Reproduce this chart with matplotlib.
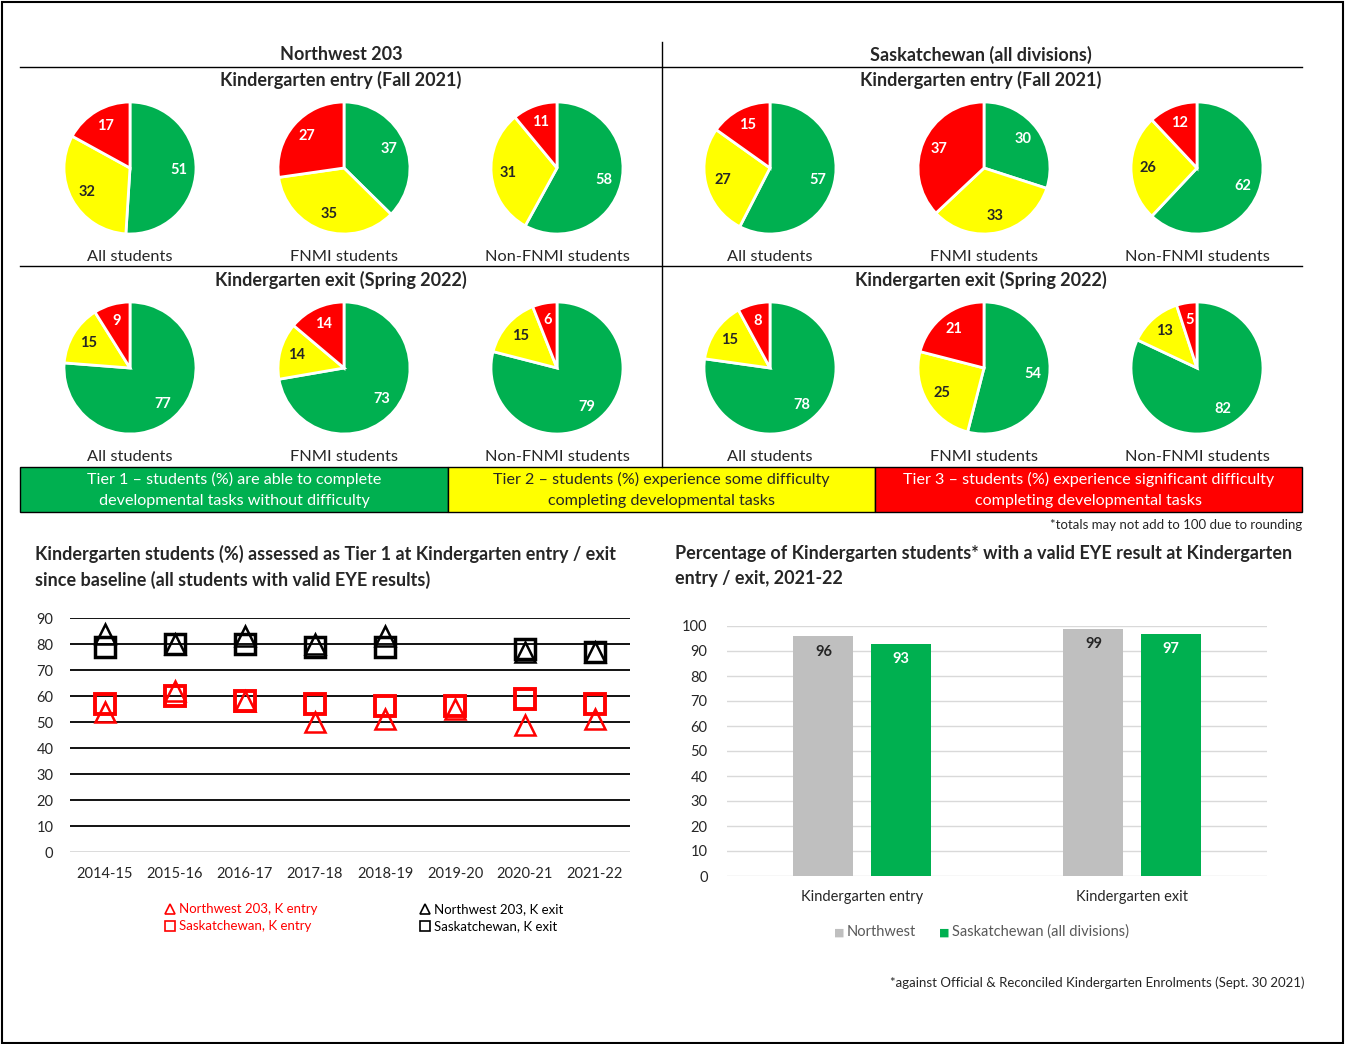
import numpy as np
import matplotlib.pyplot as plt
from matplotlib.patches import Rectangle
from matplotlib import font_manager

plt.rcParams['font.family'] = ['Lato', 'DejaVu Sans']

W, H = 1345, 1044

# pie data: tier 1 (green), tier 2 (yellow), tier 3 (red)
nw_entry = [[51, 32, 17], [37, 35, 27], [58, 31, 11]]
nw_exit = [[77, 15, 9], [73, 14, 14], [79, 15, 6]]
sk_entry = [[57, 27, 15], [30, 33, 37], [62, 26, 12]]
sk_exit = [[78, 15, 8], [54, 25, 21], [82, 13, 5]]
groups = ['All students', 'FNMI students', 'Non-FNMI students']

# line chart data
years = ['2014-15', '2015-16', '2016-17', '2017-18', '2018-19', '2019-20', '2020-21', '2021-22']
nw_k_entry = [54, 62, 58, 50, 51, 55, 49, 51]
sk_k_entry = [57, 60, 58, 57, 56, 56, 59, 57]
nw_k_exit = [84, 80, 83, 80, 83, np.nan, 77, 77]
sk_k_exit = [79, 80, 80, 79, 79, np.nan, 78, 77]

# bar chart data
bar_cats = ['Kindergarten entry', 'Kindergarten exit']
northwest_valid = [96, 99]
sask_valid = [93, 97]

GREEN = '#00B050'
YELLOW = '#FFFF00'
RED = '#FF0000'
GREY = '#BFBFBF'
DARK = '#262626'

# pick a bold face that is really installed
lato_weights = {f.weight for f in font_manager.fontManager.ttflist if f.name == 'Lato'}
BOLD = 'bold' if any(w in (700, 'bold') for w in lato_weights) else 'black'
BOLD_FAMILY = ['Lato', 'DejaVu Sans'] if BOLD == 'bold' else ['Open Sans', 'DejaVu Sans']


def px_axes(fig, x0, y0, x1, y1):
    return fig.add_axes([x0 / W, 1 - y1 / H, (x1 - x0) / W, (y1 - y0) / H])


fig = plt.figure(figsize=(W / 100, H / 100), dpi=100)

# overlay for lines and free text
ov = fig.add_axes([0, 0, 1, 1])
ov.set_xlim(0, W)
ov.set_ylim(H, 0)
ov.axis('off')
ov.add_patch(Rectangle((2, 2), W - 4, H - 3, fill=False, ec='black', lw=1.5))

# table lines
ov.plot([20, 1302], [67, 67], color='black', lw=1)
ov.plot([20, 1302], [266, 266], color='black', lw=1)
ov.plot([662, 662], [42, 467], color='black', lw=1)

hdr = dict(ha='center', va='center', fontsize=13, fontweight='bold', family=BOLD_FAMILY, color=DARK)
ov.text(341, 55, 'Northwest 203', **hdr)
ov.text(981, 55, 'Saskatchewan (all divisions)', **hdr)
for cx in [341, 981]:
    ov.text(cx, 80, 'Kindergarten entry (Fall 2021)', **hdr)
    ov.text(cx, 280, 'Kindergarten exit (Spring 2022)', **hdr)

pie_x = [130, 344, 557, 770, 984, 1197]
rows = [(168, 257, nw_entry + sk_entry), (368, 457, nw_exit + sk_exit)]
R = 66
for cy, ly, sets in rows:
    for cx, vals, name in zip(pie_x, sets, groups * 2):
        ax = px_axes(fig, cx - 70, cy - 70, cx + 70, cy + 70)
        wedges, texts = ax.pie(vals, colors=[GREEN, YELLOW, RED], startangle=90, counterclock=False,
                               labels=[str(v) for v in vals], labeldistance=0.74,
                               wedgeprops=dict(edgecolor='white', linewidth=2))
        for t, c in zip(texts, ['white', DARK, 'white']):
            t.set_color(c)
            t.set_fontsize(10.5)
            t.set_fontweight('bold')
            t.set_family(BOLD_FAMILY)
            t.set_ha('center')
            t.set_va('center')
        ax.set_aspect('equal')
        ax.set_xlim(-70 / R, 70 / R)
        ax.set_ylim(-70 / R, 70 / R)
        ax.axis('off')
        ov.text(cx, ly, name, ha='center', va='center', fontsize=11.8, color=DARK)

# tier band
tiers = [
    (20, 448, GREEN, 'white', 'Tier 1 \u2013 students (%) are able to complete\ndevelopmental tasks without difficulty'),
    (448, 875, YELLOW, DARK, 'Tier 2 \u2013 students (%) experience some difficulty\ncompleting developmental tasks'),
    (875, 1302, RED, 'white', 'Tier 3 \u2013 students (%) experience significant difficulty\ncompleting developmental tasks'),
]
for x0, x1, fc, tc, txt in tiers:
    ov.add_patch(Rectangle((x0, 467), x1 - x0, 45, fc=fc, ec='black', lw=1))
    ov.text((x0 + x1) / 2, 490, txt, ha='center', va='center', fontsize=11.6, color=tc, linespacing=1.6)
ov.text(1302, 525, '*totals may not add to 100 due to rounding', ha='right', va='center', fontsize=9.5, color=DARK)

# line chart
ov.text(35, 567, 'Kindergarten students (%) assessed as Tier 1 at Kindergarten entry / exit\nsince baseline (all students with valid EYE results)',
        ha='left', va='center', fontsize=13, fontweight='bold', family=BOLD_FAMILY, color=DARK, linespacing=1.55)
lx = px_axes(fig, 70, 618, 630, 852)
xi = np.arange(len(years))
for v in range(10, 100, 10):
    lx.axhline(v, color='black', lw=1.3, zorder=1)
lx.axhline(0, color='#D9D9D9', lw=1.3, zorder=1)
lx.plot(xi, nw_k_entry, ls='none', marker='^', ms=14, mfc='none', mec=RED, mew=1.8, zorder=3)
lx.plot(xi, sk_k_entry, ls='none', marker='s', ms=14, mfc='none', mec=RED, mew=2.8, zorder=3)
lx.plot(xi, nw_k_exit, ls='none', marker='^', ms=14, mfc='none', mec='black', mew=1.8, zorder=3)
lx.plot(xi, sk_k_exit, ls='none', marker='s', ms=14, mfc='none', mec='black', mew=2.5, zorder=3)
lx.set_xlim(-0.5, len(years) - 0.5)
lx.set_ylim(0, 90)
lx.set_yticks(range(0, 100, 10))
lx.set_xticks(xi)
lx.set_xticklabels(years)
lx.tick_params(length=0, labelsize=10.5, labelcolor=DARK)
lx.tick_params(axis='x', pad=11)
lx.tick_params(axis='y', pad=12)
for s in lx.spines.values():
    s.set_visible(False)

# line chart legend
leg = [(170, 909, '^', RED, 'Northwest 203, K entry'),
       (170, 926, 's', RED, 'Saskatchewan, K entry'),
       (425, 909, '^', 'black', 'Northwest 203, K exit'),
       (425, 926, 's', 'black', 'Saskatchewan, K exit')]
for mx, my, mk, c, label in leg:
    ov.plot([mx], [my], marker=mk, ms=7.5, mfc='none', mec=c, mew=1.2)
    ov.text(mx + 9, my, label, ha='left', va='center', fontsize=9.5, color=c)

# bar chart
ov.text(675, 566, 'Percentage of Kindergarten students* with a valid EYE result at Kindergarten\nentry / exit, 2021-22',
        ha='left', va='center', fontsize=13, fontweight='bold', family=BOLD_FAMILY, color=DARK, linespacing=1.55)
bx = px_axes(fig, 727, 626, 1267, 876)
bi = np.arange(len(bar_cats))
bw = 0.222
for v in range(0, 110, 10):
    bx.axhline(v, color='#D9D9D9', lw=1, zorder=0)
b1 = bx.bar(bi - 0.143, northwest_valid, width=bw, color=GREY, zorder=2)
b2 = bx.bar(bi + 0.143, sask_valid, width=bw, color=GREEN, zorder=2)
for rect, v in zip(b1, northwest_valid):
    bx.text(rect.get_x() + rect.get_width() / 2, v - 3.5, str(v), ha='center', va='top',
            fontsize=10.5, fontweight='bold', family=BOLD_FAMILY, color=DARK)
for rect, v in zip(b2, sask_valid):
    bx.text(rect.get_x() + rect.get_width() / 2, v - 3.5, str(v), ha='center', va='top',
            fontsize=10.5, fontweight='bold', family=BOLD_FAMILY, color='white')
bx.set_xlim(-0.5, len(bar_cats) - 0.5)
bx.set_ylim(0, 100)
bx.set_yticks(range(0, 110, 10))
bx.set_xticks(bi)
bx.set_xticklabels(bar_cats)
bx.tick_params(length=0, labelsize=10.5, labelcolor=DARK)
bx.tick_params(axis='x', pad=10)
bx.tick_params(axis='y', pad=14)
for s in bx.spines.values():
    s.set_visible(False)

ov.text(834, 932, '\u25a0', ha='left', va='center', fontsize=8, color=GREY)
ov.text(847, 932, 'Northwest', ha='left', va='center', fontsize=10.5, color='#595959')
ov.text(939, 932, '\u25a0', ha='left', va='center', fontsize=8, color=GREEN)
ov.text(952, 932, 'Saskatchewan (all divisions)', ha='left', va='center', fontsize=10.5, color='#595959')

ov.text(1305, 983, '*against Official & Reconciled Kindergarten Enrolments (Sept. 30 2021)',
        ha='right', va='center', fontsize=9.5, color=DARK)

fig.savefig('out.png', dpi=100)
